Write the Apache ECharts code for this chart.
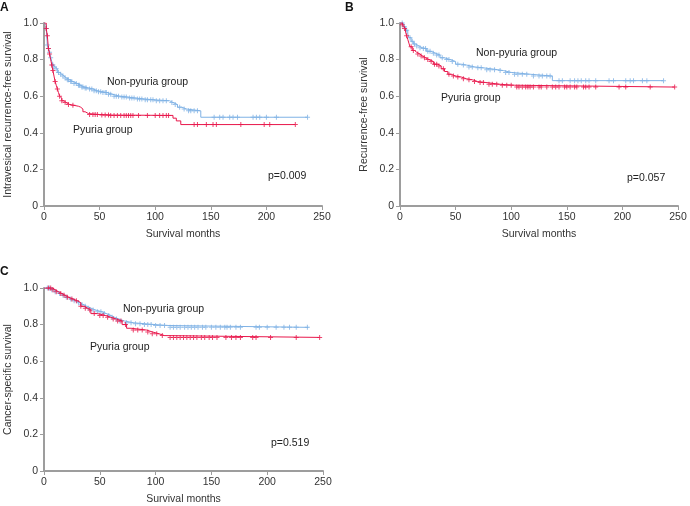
<!DOCTYPE html>
<html>
<head>
<meta charset="utf-8">
<script src="https://cdn.jsdelivr.net/npm/echarts@6/dist/echarts.min.js"></script>
<style>
html,body{margin:0;padding:0;background:#fff;}
#chart{width:690px;height:506px;}
</style>
</head>
<body>
<div id="chart"></div>
<script>
// ---- Tick labels ----
const xTicks = [0, 50, 100, 150, 200, 250];
const yTicks = ['0', '0.2', '0.4', '0.6', '0.8', '1.0'];

// ---- Panel A: Intravesical recurrence-free survival ----
const A_nonPyuria_t = [0, 1, 2, 3, 4, 5, 6, 7, 8, 9, 10, 12, 14, 16, 18, 20, 23, 26, 30, 33, 36, 40, 44, 48, 52, 57, 62, 68, 75, 82, 90, 100, 113, 116, 120, 124, 128, 141];
const A_nonPyuria_s = [1.0, 0.99, 0.97, 0.88, 0.86, 0.84, 0.81, 0.79, 0.77, 0.76, 0.75, 0.73, 0.72, 0.71, 0.70, 0.69, 0.68, 0.67, 0.66, 0.65, 0.645, 0.64, 0.63, 0.625, 0.62, 0.61, 0.60, 0.595, 0.59, 0.585, 0.58, 0.575, 0.565, 0.555, 0.54, 0.53, 0.52, 0.485];
const A_nonPyuria_end = 237;
const A_nonPyuria_censor = [2,3,4,5,6,8,9,11,13,15,17,19,21,22,24,25,27,29,31,32,34,35,37,38,41,43,45,47,49,51,53,55,56,58,60,63,65,67,70,72,74,77,79,81,84,86,88,91,93,96,98,101,104,107,110,115,118,122,126,130,132,135,138,153,158,161,167,170,174,188,191,194,200,209,237];

const A_pyuria_t = [0, 2, 3, 4, 5, 6, 7, 8, 9, 10, 11, 12, 13, 14, 15, 16, 18, 20, 23, 27, 31, 33, 35, 37, 40, 50, 60, 116, 119, 123];
const A_pyuria_s = [1.0, 0.97, 0.93, 0.86, 0.83, 0.80, 0.77, 0.74, 0.71, 0.68, 0.66, 0.64, 0.62, 0.60, 0.59, 0.575, 0.565, 0.555, 0.55, 0.545, 0.54, 0.53, 0.515, 0.505, 0.50, 0.497, 0.495, 0.48, 0.465, 0.445];
const A_pyuria_end = 226;
const A_pyuria_censor = [2,3,4,5,7,8,10,12,14,16,19,22,26,41,44,46,48,52,55,58,60,63,66,69,72,74,76,78,80,85,93,100,104,107,110,112,135,138,146,152,155,177,198,203,226];

// ---- Panel B: Recurrence-free survival ----
const B_nonPyuria_t = [0, 3, 5, 7, 8, 10, 12, 14, 17, 20, 24, 28, 32, 36, 40, 45, 50, 55, 60, 67, 75, 88, 93, 100, 117, 137];
const B_nonPyuria_s = [1.0, 0.98, 0.96, 0.94, 0.92, 0.90, 0.885, 0.875, 0.865, 0.86, 0.845, 0.835, 0.825, 0.81, 0.80, 0.79, 0.775, 0.77, 0.76, 0.755, 0.745, 0.74, 0.73, 0.72, 0.71, 0.685];
const B_nonPyuria_end = 237;
const B_nonPyuria_censor = [2,4,6,9,11,13,15,18,21,23,25,27,30,33,35,38,42,44,47,52,57,62,65,70,73,78,81,85,90,95,98,103,106,110,114,120,125,128,132,135,143,146,153,157,160,163,167,170,176,188,192,203,207,210,218,222,237];

const B_pyuria_t = [0, 2, 3, 4, 5, 6, 7, 8, 9, 11, 13, 15, 18, 20, 23, 26, 30, 34, 37, 40, 43, 46, 50, 55, 60, 65, 70, 77, 90, 103];
const B_pyuria_s = [1.0, 0.99, 0.98, 0.97, 0.95, 0.93, 0.91, 0.89, 0.87, 0.85, 0.84, 0.83, 0.82, 0.81, 0.80, 0.79, 0.775, 0.765, 0.75, 0.735, 0.72, 0.71, 0.705, 0.695, 0.69, 0.68, 0.675, 0.665, 0.66, 0.65];
const B_pyuria_end = 247;
const B_pyuria_censor = [2,4,6,10,12,16,19,22,25,28,31,33,35,39,44,48,52,57,62,67,72,75,80,83,87,92,96,100,105,107,110,113,115,117,120,125,127,132,137,140,143,148,150,153,157,159,165,167,170,176,197,203,225,247];

// ---- Panel C: Cancer-specific survival ----
const C_nonPyuria_t = [0, 6, 9, 12, 15, 18, 21, 25, 28, 32, 35, 38, 42, 46, 52, 56, 60, 63, 67, 72, 80, 90, 100, 112];
const C_nonPyuria_s = [1.0, 0.99, 0.98, 0.97, 0.96, 0.95, 0.94, 0.93, 0.92, 0.91, 0.90, 0.89, 0.88, 0.87, 0.86, 0.85, 0.84, 0.83, 0.82, 0.81, 0.805, 0.80, 0.795, 0.785];
const C_nonPyuria_end = 237;
const C_nonPyuria_censor = [3,5,7,10,14,17,20,24,27,31,34,37,40,44,48,51,54,58,61,65,68,74,78,82,86,90,93,96,100,104,108,113,116,119,122,126,129,132,135,138,142,145,150,154,158,162,164,167,172,176,190,193,200,208,215,220,226,236];

const C_pyuria_t = [0, 8, 10, 13, 16, 19, 22, 26, 30, 33, 36, 39, 42, 48, 55, 60, 65, 70, 74, 78, 92, 97, 103, 108];
const C_pyuria_s = [1.0, 0.99, 0.98, 0.97, 0.96, 0.95, 0.94, 0.93, 0.92, 0.90, 0.89, 0.88, 0.86, 0.85, 0.84, 0.83, 0.82, 0.80, 0.78, 0.77, 0.76, 0.75, 0.74, 0.73];
const C_pyuria_end = 247;
const C_pyuria_censor = [4,6,8,11,15,18,21,25,29,33,37,41,45,50,53,57,62,66,69,73,80,84,88,93,97,101,106,113,116,119,122,125,128,131,134,137,141,144,148,151,155,163,168,172,176,187,190,203,226,247];

// ---- Styling ----
const BLUE = '#7fb2e5';
const RED = '#e8174b';
const FONT = 'Liberation Sans, Arial, sans-serif';
const PLUS = 'path://M4,0h2v4h4v2h-4v4h-2v-4h-4v-2h4z';

function stepData(t, s, end) {
  const d = t.map((v, i) => [v, s[i]]);
  d.push([end, s[s.length - 1]]);
  return d;
}
function kmAt(t, s, x) {
  let v = s[0];
  for (let i = 0; i < t.length; i++) { if (t[i] <= x) v = s[i]; }
  return v;
}
function censorData(t, s, c) { return c.map(x => [x, kmAt(t, s, x)]); }

const grids = [
  {left: 44, top: 23, width: 278, height: 183},
  {left: 400, top: 23, width: 278, height: 183},
  {left: 44, top: 288, width: 279, height: 184}
];
const yNames = ['Intravesical recurrence-free survival', 'Recurrence-free survival', 'Cancer-specific survival'];

function xAxis(i) {
  return {
    gridIndex: i, type: 'value', min: 0, max: 250, interval: 50,
    name: 'Survival months', nameLocation: 'middle', nameGap: 23,
    nameTextStyle: {fontFamily: FONT, fontSize: 10.5, color: '#333'},
    axisLine: {show: true, lineStyle: {color: '#9d9d9d', width: 2}},
    axisTick: {show: true, length: 4, lineStyle: {color: '#9d9d9d', width: 1}},
    axisLabel: {fontFamily: FONT, fontSize: 10.5, color: '#333', margin: 6},
    splitLine: {show: false}
  };
}
function yAxis(i) {
  return {
    gridIndex: i, type: 'value', min: 0, max: 1, interval: 0.2,
    name: yNames[i], nameLocation: 'middle', nameGap: 30,
    nameTextStyle: {fontFamily: FONT, fontSize: 10.5, color: '#333'},
    axisLine: {show: true, lineStyle: {color: '#9d9d9d', width: 2}},
    axisTick: {show: true, length: 4, lineStyle: {color: '#9d9d9d', width: 1}},
    axisLabel: {fontFamily: FONT, fontSize: 10.5, color: '#333', margin: 6,
      formatter: v => yTicks[Math.round(v * 5)]},
    splitLine: {show: false}
  };
}

function lineSeries(i, t, s, end, color, z) {
  return {type: 'line', xAxisIndex: i, yAxisIndex: i, step: 'end', showSymbol: false,
    data: stepData(t, s, end), lineStyle: {color: color, width: 1}, z: z, silent: true, animation: false};
}
function censorSeries(i, t, s, c, color, z) {
  return {type: 'scatter', xAxisIndex: i, yAxisIndex: i, symbol: PLUS, symbolSize: 5,
    data: censorData(t, s, c), itemStyle: {color: color}, z: z, silent: true, animation: false};
}

const series = [
  lineSeries(0, A_nonPyuria_t, A_nonPyuria_s, A_nonPyuria_end, BLUE, 2),
  censorSeries(0, A_nonPyuria_t, A_nonPyuria_s, A_nonPyuria_censor, BLUE, 3),
  lineSeries(0, A_pyuria_t, A_pyuria_s, A_pyuria_end, RED, 4),
  censorSeries(0, A_pyuria_t, A_pyuria_s, A_pyuria_censor, RED, 5),
  lineSeries(1, B_nonPyuria_t, B_nonPyuria_s, B_nonPyuria_end, BLUE, 2),
  censorSeries(1, B_nonPyuria_t, B_nonPyuria_s, B_nonPyuria_censor, BLUE, 3),
  lineSeries(1, B_pyuria_t, B_pyuria_s, B_pyuria_end, RED, 4),
  censorSeries(1, B_pyuria_t, B_pyuria_s, B_pyuria_censor, RED, 5),
  lineSeries(2, C_nonPyuria_t, C_nonPyuria_s, C_nonPyuria_end, BLUE, 2),
  censorSeries(2, C_nonPyuria_t, C_nonPyuria_s, C_nonPyuria_censor, BLUE, 3),
  lineSeries(2, C_pyuria_t, C_pyuria_s, C_pyuria_end, RED, 4),
  censorSeries(2, C_pyuria_t, C_pyuria_s, C_pyuria_censor, RED, 5)
];

function txt(x, y, text, opts) {
  return Object.assign({type: 'text', x: x, y: y, style: Object.assign({text: text, fontFamily: FONT, fontSize: 10.5, fill: '#222', textVerticalAlign: 'middle'}, opts || {})});
}

const graphic = [
  txt(0, 8, 'A', {fontWeight: 'bold', fontSize: 12, fill: '#111'}),
  txt(345, 8, 'B', {fontWeight: 'bold', fontSize: 12, fill: '#111'}),
  txt(0, 272, 'C', {fontWeight: 'bold', fontSize: 12, fill: '#111'}),
  txt(107, 82, 'Non-pyuria group'),
  txt(73, 130, 'Pyuria group'),
  txt(268, 176, 'p=0.009'),
  txt(476, 53, 'Non-pyuria group'),
  txt(441, 98, 'Pyuria group'),
  txt(627, 178, 'p=0.057'),
  txt(123, 309, 'Non-pyuria group'),
  txt(90, 347, 'Pyuria group'),
  txt(271, 443, 'p=0.519')
];

const chart = echarts.init(document.getElementById('chart'), null, {renderer: 'canvas'});
chart.setOption({
  animation: false,
  backgroundColor: '#fff',
  grid: grids,
  xAxis: [xAxis(0), xAxis(1), xAxis(2)],
  yAxis: [yAxis(0), yAxis(1), yAxis(2)],
  series: series,
  graphic: graphic
});
</script>
</body>
</html>
